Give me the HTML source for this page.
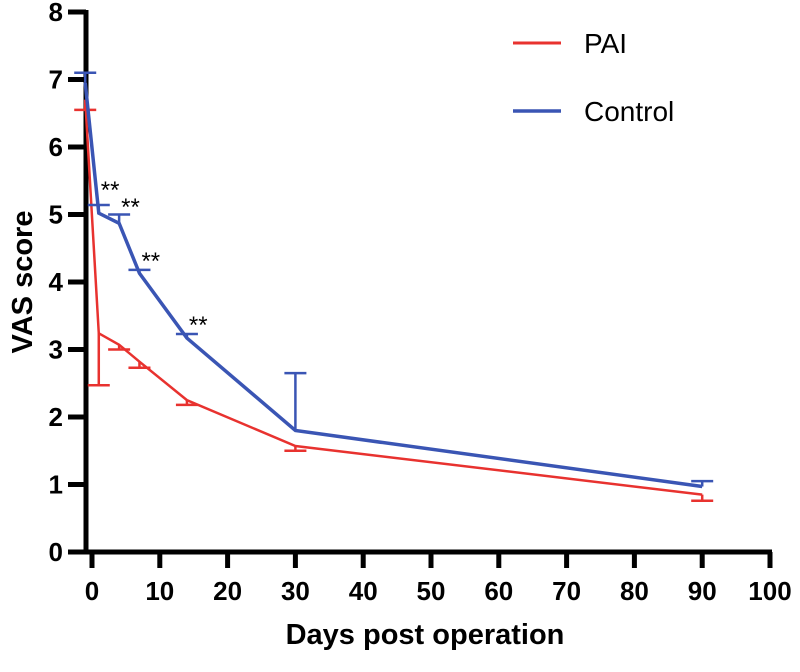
<!DOCTYPE html>
<html><head><meta charset="utf-8"><style>
html,body{margin:0;padding:0;background:#fff;}
svg text{font-family:"Liberation Sans",Arial,sans-serif;}
</style></head><body>
<svg id="chart" width="800" height="667" xmlns="http://www.w3.org/2000/svg"></svg>
<script>
const days = [-1, 1, 4, 7, 14, 30, 90];
const paiMean = [6.7, 3.24, 3.07, 2.82, 2.25, 1.57, 0.85];
const paiErr = [0.15, 0.77, 0.07, 0.09, 0.07, 0.07, 0.09];
const ctrlMean = [6.95, 5.02, 4.87, 4.13, 3.17, 1.8, 0.97];
const ctrlErr = [0.15, 0.12, 0.13, 0.05, 0.06, 0.85, 0.08];
const sigDays = [1, 4, 7, 14];
const sigValues = [5.45, 5.2, 4.4, 3.45];
const xTicks = [0,10,20,30,40,50,60,70,80,90,100];
const yTicks = [0,1,2,3,4,5,6,7,8];

const svg = document.getElementById('chart');
const NS = 'http://www.w3.org/2000/svg';
const X = d => 92 + d * 6.78;
const Y = v => 552 - v * 67.5;
function mk(tag, attrs, parent){const e=document.createElementNS(NS,tag);for(const k in attrs)e.setAttribute(k,attrs[k]);(parent||svg).appendChild(e);return e;}

let ax = mk('line',{x1:86,y1:552,x2:772,y2:552,stroke:'#000','stroke-width':5});


let ay = mk('line',{x1:86,y1:10,x2:86,y2:554,stroke:'#000','stroke-width':5});


xTicks.forEach(t=>{
  let l=mk('line',{x1:X(t),y1:552,x2:X(t),y2:568,stroke:'#000','stroke-width':5});
  
  
  let tx=mk('text',{x:X(t),y:600,'text-anchor':'middle','font-size':26,'font-weight':'bold'});
  tx.textContent=t;
  
  
});
yTicks.forEach(t=>{
  let l=mk('line',{x1:68,y1:Y(t),x2:86,y2:Y(t),stroke:'#000','stroke-width':5});
  
  
  let tx=mk('text',{x:63,y:Y(t)+9,'text-anchor':'end','font-size':26,'font-weight':'bold'});
  tx.textContent=t;
  
  
});
let xl=mk('text',{x:425,y:644,'text-anchor':'middle','font-size':29,'font-weight':'bold'});
xl.textContent='Days post operation';


let yl=mk('text',{x:0,y:0,'text-anchor':'middle','font-size':29,'font-weight':'bold',transform:'translate(32,282) rotate(-90)'});
yl.textContent='VAS score';



function series(means, errs, color, dir, name){
  means.forEach((m,i)=>{
    const x=X(days[i]), y0=Y(m), y1=Y(m+dir*errs[i]);
    let e=mk('line',{x1:x,y1:y0,x2:x,y2:y1,stroke:color,'stroke-width':2.5});
    
    
    let c=mk('line',{x1:x-11,y1:y1,x2:x+11,y2:y1,stroke:color,'stroke-width':2.5});
    
    
  });
  const pts=means.map((m,i)=>X(days[i])+','+Y(m)).join(' ');
  let p=mk('polyline',{points:pts,fill:'none',stroke:color,'stroke-width':color==='#e8322f'?2.5:3.5});
  
  
}
series(paiMean,paiErr,'#e8322f',-1,'pai');
series(ctrlMean,ctrlErr,'#3a55b4',1,'control');

sigDays.forEach((d,i)=>{
  let s=mk('text',{x:X(d)+2,y:Y(sigValues[i])+14,'font-size':24});
  s.textContent='**';
  
  
});

let l1=mk('line',{x1:513,y1:43,x2:561,y2:43,stroke:'#e8322f','stroke-width':3});


let t1=mk('text',{x:584,y:53,'font-size':28});
t1.textContent='PAI';


let l2=mk('line',{x1:513,y1:111,x2:561,y2:111,stroke:'#3a55b4','stroke-width':3.5});


let t2=mk('text',{x:584,y:121,'font-size':28});
t2.textContent='Control';


</script>
</body></html>
